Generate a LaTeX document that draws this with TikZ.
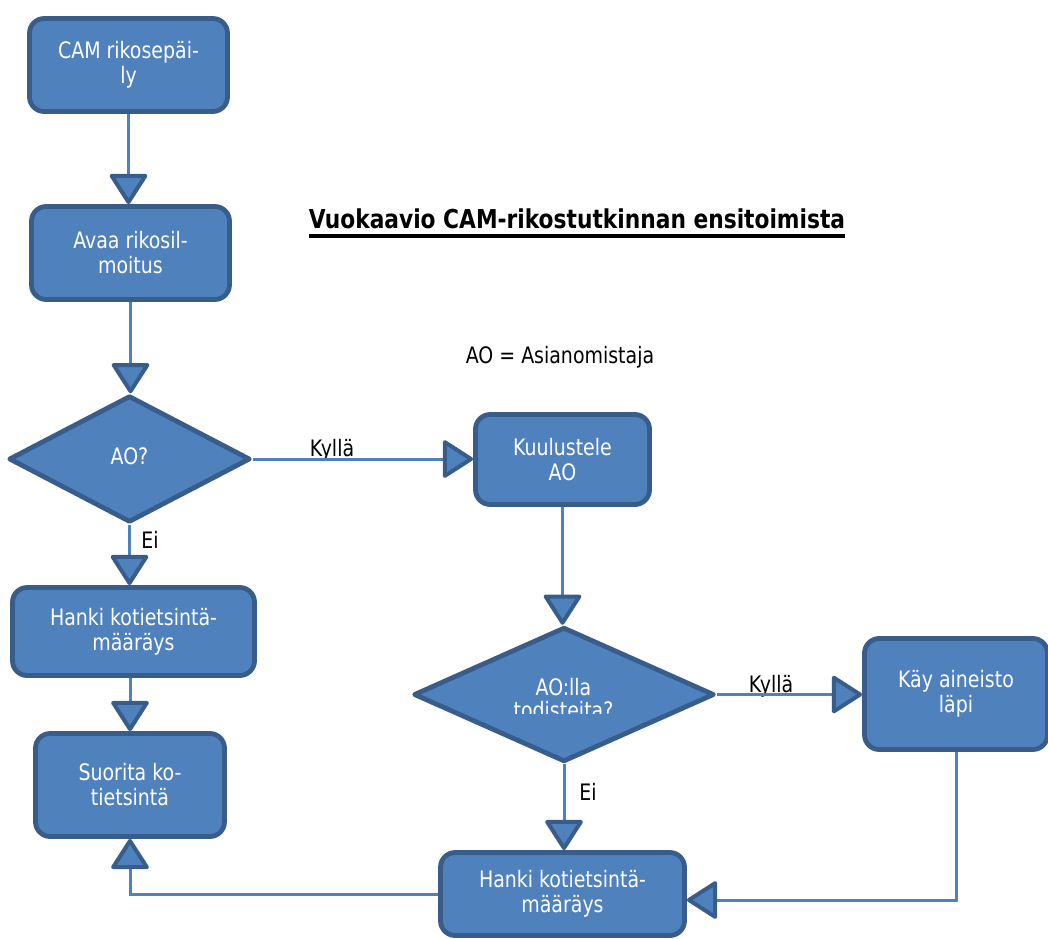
\documentclass[tikz,border=0pt]{standalone}
\usepackage{fontspec}
\setmainfont{DejaVu Sans Condensed}[FakeStretch=0.93]
\usetikzlibrary{arrows.meta,shapes.geometric}
\definecolor{boxblue}{RGB}{79,129,189}
\definecolor{boxdark}{RGB}{56,93,138}
\begin{document}
\begin{tikzpicture}[x=0.75pt,y=-0.75pt,
  every node/.style={font=\fontsize{17pt}{18.8pt}\selectfont},
  flowbox/.style={rectangle, rounded corners=11pt, draw=boxdark, fill=boxblue, line width=3.6pt, text=white, align=center, inner sep=0pt, line join=round},
  decision/.style={diamond, draw=boxdark, fill=boxblue, line width=3.6pt, text=white, align=center, inner sep=0pt, line join=round},
  conn/.style={draw=boxblue, line width=2.25pt, -{Triangle[width=30pt,length=24pt,line width=3pt,color=boxdark,fill=boxblue,round]}},
  lbl/.style={text=black, inner sep=0pt}]
\useasboundingbox (0,0) rectangle (1048,938);

% boxes
\node[flowbox, minimum width=148.5pt, minimum height=69.75pt] (cam) at (128.5,65) {CAM rikosepäi-\\ly};
\node[flowbox, minimum width=148.5pt, minimum height=69.75pt] (avaa) at (130.5,253) {Avaa rikosil-\\moitus};
\node[decision, minimum width=181pt, minimum height=95pt] (ao) at (129.5,459) {\raisebox{5pt}{AO?}};
\node[flowbox, minimum width=181.5pt, minimum height=66pt] (hankiL) at (133.5,631.5) {Hanki kotietsintä-\\määräys};
\node[flowbox, minimum width=141.75pt, minimum height=77.25pt] (suor) at (130,785) {Suorita ko-\\tietsintä};
\node[flowbox, minimum width=130.5pt, minimum height=67.5pt] (kuul) at (562.5,459.5) {Kuulustele\\AO};
\node[decision, minimum width=225.5pt, minimum height=101pt] (aolla) at (564,694.5) {};
\node[flowbox, minimum width=137.25pt, minimum height=83.25pt] (kay) at (956,694) {Käy aineisto\\läpi};
\node[flowbox, minimum width=183pt, minimum height=62.25pt] (hankiB) at (562.5,894) {Hanki kotietsintä-\\määräys};

\begin{scope}
\clip (400,600) rectangle (730,713);
\node[text=white, align=center, inner sep=0pt, anchor=north, font=\fontsize{17pt}{17pt}\selectfont] (aollatxt) at (563.5,678) {AO:lla\\todisteita?};
\end{scope}

% labels
\node[lbl, anchor=base] (k1) at (332,456) {Kyllä};
\node[lbl] (e1) at (150,540) {Ei};
\node[lbl, anchor=base] (k2) at (771,692) {Kyllä};
\node[lbl] (e2) at (588,792) {Ei};
\node[lbl] (legend) at (560,357) {AO = Asianomistaja};
\node[lbl, font=\bfseries\fontsize{19.5pt}{22pt}\selectfont, anchor=base] (title) at (577,228) {Vuokaavio CAM-rikostutkinnan ensitoimista};
\draw[line width=2.5pt] ([yshift=-6pt]title.base west) -- ([yshift=-6pt]title.base east);

% connectors
\draw[conn] (cam.south) -- (cam.south |- avaa.north);
\draw[conn] (avaa.south) -- (avaa.south |- ao.north);
\draw[conn] (ao.east) -- (ao.east -| kuul.west);
\draw[conn] (ao.south) -- (ao.south |- hankiL.north);
\draw[conn] (suor.north |- hankiL.south) -- (suor.north);
\draw[conn] (kuul.south) -- (kuul.south |- aolla.north);
\draw[conn] (aolla.east) -- (aolla.east -| kay.west);
\draw[conn] (aolla.south) -- (aolla.south |- hankiB.north);
\draw[conn] (kay.south) |- ([yshift=-4.5pt]hankiB.east);
\draw[conn] (hankiB.west) -| (suor.south);
\end{tikzpicture}
\end{document}
